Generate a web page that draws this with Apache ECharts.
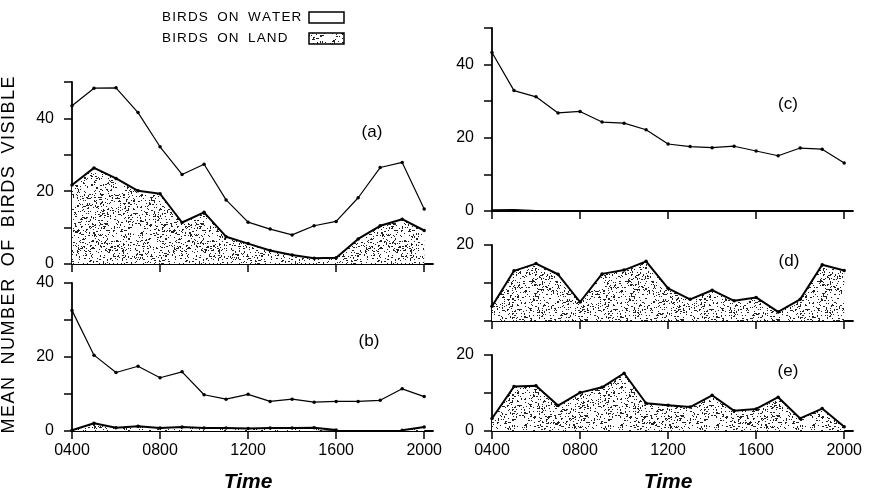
<!DOCTYPE html>
<html>
<head>
<meta charset="utf-8">
<script src="https://cdn.jsdelivr.net/npm/echarts@6/dist/echarts.min.js"></script>
<style>
html,body{margin:0;padding:0;background:#fff;}
#chart{width:870px;height:495px;}
</style>
</head>
<body>
<div id="chart"></div>
<script>
// ---- data ----
const HOURS = [4,5,6,7,8,9,10,11,12,13,14,15,16,17,18,19,20];
const X_TICKS = [4,8,12,16,20];
const X_TICK_LABELS = ['0400','0800','1200','1600','2000'];

const A_WATER = [43.5,48.3,48.4,41.6,32.2,24.6,27.4,17.6,11.5,9.6,8.0,10.5,11.7,18.2,26.5,27.9,15.1];
const A_LAND  = [21.7,26.4,23.5,20.1,19.3,11.4,14.2,7.5,5.6,3.7,2.5,1.6,1.7,6.9,10.5,12.3,9.2];
const B_WATER = [32.6,20.5,15.8,17.5,14.4,16.0,9.8,8.6,9.9,8.0,8.6,7.8,8.0,8.0,8.3,11.4,9.3];
const B_LAND  = [0.2,2.1,0.9,1.3,0.8,1.1,0.8,0.8,0.7,0.8,0.8,0.9,0.3,null,null,0.2,1.1];
const C_WATER = [43.3,32.9,31.2,26.8,27.2,24.3,24.0,22.2,18.3,17.6,17.3,17.7,16.4,15.1,17.2,16.9,13.1];
const C_LAND  = [0.2,0.3,0,null,null,null,null,null,null,null,null,null,null,null,null,null,null];
const D_LAND  = [3.9,13.2,15.1,12.3,5.0,12.4,13.4,15.7,8.6,5.7,8.1,5.3,6.2,2.4,5.7,14.8,13.3];
const E_LAND  = [3.3,11.7,11.9,6.7,10.1,11.5,15.2,7.3,6.8,6.3,9.4,5.3,5.8,8.9,3.3,5.9,1.1];

const PANEL_LABELS = ['(a)','(b)','(c)','(d)','(e)'];
const Y_TITLE = 'MEAN NUMBER OF BIRDS VISIBLE';
const LEGEND_WATER = 'BIRDS ON WATER';
const LEGEND_LAND = 'BIRDS ON LAND';
const X_TITLE = 'Time';

// ---- helpers ----
const FONT = '"Liberation Sans", Arial, sans-serif';
function spaced(s){ return s.split(' ').map(w => w.split('').join('\u200A')).join('\u2002\u2009'); }
function pairs(vals){ return HOURS.map((h,i)=>[h, vals[i] == null ? '-' : vals[i]]); }

function makeStipple(){
  const n = 96;
  const c = document.createElement('canvas'); c.width = n; c.height = n;
  const g = c.getContext('2d');
  g.fillStyle = '#fff'; g.fillRect(0,0,n,n);
  let s = 987654321;
  const rnd = () => { s = (s * 1103515245 + 12345) & 0x7fffffff; return s / 0x7fffffff; };
  g.fillStyle = '#222';
  for (let i = 0; i < 1250; i++) {
    const x = Math.floor(rnd()*n), y = Math.floor(rnd()*n);
    const w = rnd() < 0.18 ? 2 : 1, h = rnd() < 0.1 ? 2 : 1;
    g.fillRect(x, y, w, h);
  }
  return c;
}
const STIPPLE = makeStipple();
const stippleFill = { image: STIPPLE, repeat: 'repeat' };

// ---- layout ----
const grids = [
  { left: 72,  right: 437, top: 82,  bottom: 231 }, // a
  { left: 72,  right: 437, top: 283, bottom: 64 },  // b
  { left: 492, right: 17,  top: 28,  bottom: 284 }, // c
  { left: 492, right: 17,  top: 245, bottom: 174 }, // d
  { left: 492, right: 17,  top: 355, bottom: 64 }   // e
];
const yMax = [50, 40, 50, 20, 20];
const yLabelFn = [
  v => (v % 20 === 0 ? String(v) : ''),
  v => (v % 20 === 0 ? String(v) : ''),
  v => (v % 20 === 0 ? String(v) : ''),
  v => (v === 20 ? '20' : ''),
  v => (v % 20 === 0 ? String(v) : '')
];
const showXLabels = [false, true, false, false, true];

const xAxes = grids.map((g, i) => ({
  type: 'value', gridIndex: i, min: 4, max: 20.4,
  axisLine: { show: true, onZero: false, lineStyle: { color: '#000', width: 1.8 } },
  axisTick: { show: true, length: 8, customValues: X_TICKS, lineStyle: { color: '#000', width: 1.5 } },
  axisLabel: {
    show: showXLabels[i], customValues: X_TICKS, margin: 12,
    color: '#000', fontSize: 16, fontFamily: FONT,
    formatter: v => { const k = X_TICKS.indexOf(v); return k >= 0 ? X_TICK_LABELS[k] : ''; }
  },
  splitLine: { show: false }
}));

const yAxes = grids.map((g, i) => ({
  type: 'value', gridIndex: i, min: 0, max: yMax[i], interval: 10,
  axisLine: { show: true, lineStyle: { color: '#000', width: 1.8 } },
  axisTick: { show: true, length: 8, lineStyle: { color: '#000', width: 1.5 } },
  axisLabel: { margin: 18, color: '#000', fontSize: 16, fontFamily: FONT, formatter: yLabelFn[i] },
  splitLine: { show: false }
}));

function waterSeries(idx, vals){
  return {
    type: 'line', xAxisIndex: idx, yAxisIndex: idx, data: pairs(vals),
    symbol: 'circle', symbolSize: 3.5, showSymbol: true,
    lineStyle: { color: '#000', width: 1.2 }, itemStyle: { color: '#000' },
    z: 4
  };
}
function landSeries(idx, vals, sym){
  return {
    type: 'line', xAxisIndex: idx, yAxisIndex: idx, data: pairs(vals),
    symbol: 'circle', symbolSize: 3.5, showSymbol: sym !== false,
    connectNulls: false,
    lineStyle: { color: '#000', width: 2 }, itemStyle: { color: '#000' },
    areaStyle: { color: stippleFill, opacity: 1 },
    z: 3
  };
}

const series = [
  landSeries(0, A_LAND), waterSeries(0, A_WATER),
  landSeries(1, B_LAND), waterSeries(1, B_WATER),
  landSeries(2, C_LAND, false), waterSeries(2, C_WATER),
  landSeries(3, D_LAND),
  landSeries(4, E_LAND)
];

const labelPos = [[372,132],[369,341],[788,104],[789,261],[788,371]];
const graphics = [];
PANEL_LABELS.forEach((t, i) => {
  graphics.push({ type: 'text', x: labelPos[i][0], y: labelPos[i][1],
    style: { text: t, font: '17px ' + FONT, fill: '#000', align: 'center', verticalAlign: 'middle', textAlign: 'center', textVerticalAlign: 'middle' } });
});
// y-axis title
graphics.push({ type: 'text', x: 9, y: 255, rotation: Math.PI / 2,
  style: { text: spaced(Y_TITLE), font: '18px ' + FONT, fill: '#000', align: 'center', verticalAlign: 'middle', textAlign: 'center', textVerticalAlign: 'middle' } });
// x titles
[248, 668].forEach(x => {
  graphics.push({ type: 'text', x: x, y: 482,
    style: { text: X_TITLE, font: 'italic bold 21px ' + FONT, fill: '#000', align: 'center', verticalAlign: 'middle', textAlign: 'center', textVerticalAlign: 'middle' } });
});
// legend
graphics.push({ type: 'text', x: 162, y: 17,
  style: { text: spaced(LEGEND_WATER), font: '13.5px ' + FONT, fill: '#000', align: 'left', verticalAlign: 'middle', textAlign: 'left', textVerticalAlign: 'middle' } });
graphics.push({ type: 'text', x: 162, y: 38,
  style: { text: spaced(LEGEND_LAND), font: '13.5px ' + FONT, fill: '#000', align: 'left', verticalAlign: 'middle', textAlign: 'left', textVerticalAlign: 'middle' } });
graphics.push({ type: 'rect', shape: { x: 309, y: 12, width: 35, height: 11 },
  style: { fill: '#fff', stroke: '#000', lineWidth: 1.5 } });
graphics.push({ type: 'rect', shape: { x: 309, y: 33, width: 35, height: 11 },
  style: { fill: stippleFill, stroke: '#000', lineWidth: 1.5 } });

const chart = echarts.init(document.getElementById('chart'), null, { renderer: 'canvas' });
chart.setOption({
  animation: false,
  backgroundColor: '#fff',
  grid: grids.map(g => Object.assign({ containLabel: false }, g)),
  xAxis: xAxes,
  yAxis: yAxes,
  series: series,
  graphic: graphics
});
</script>
</body>
</html>
